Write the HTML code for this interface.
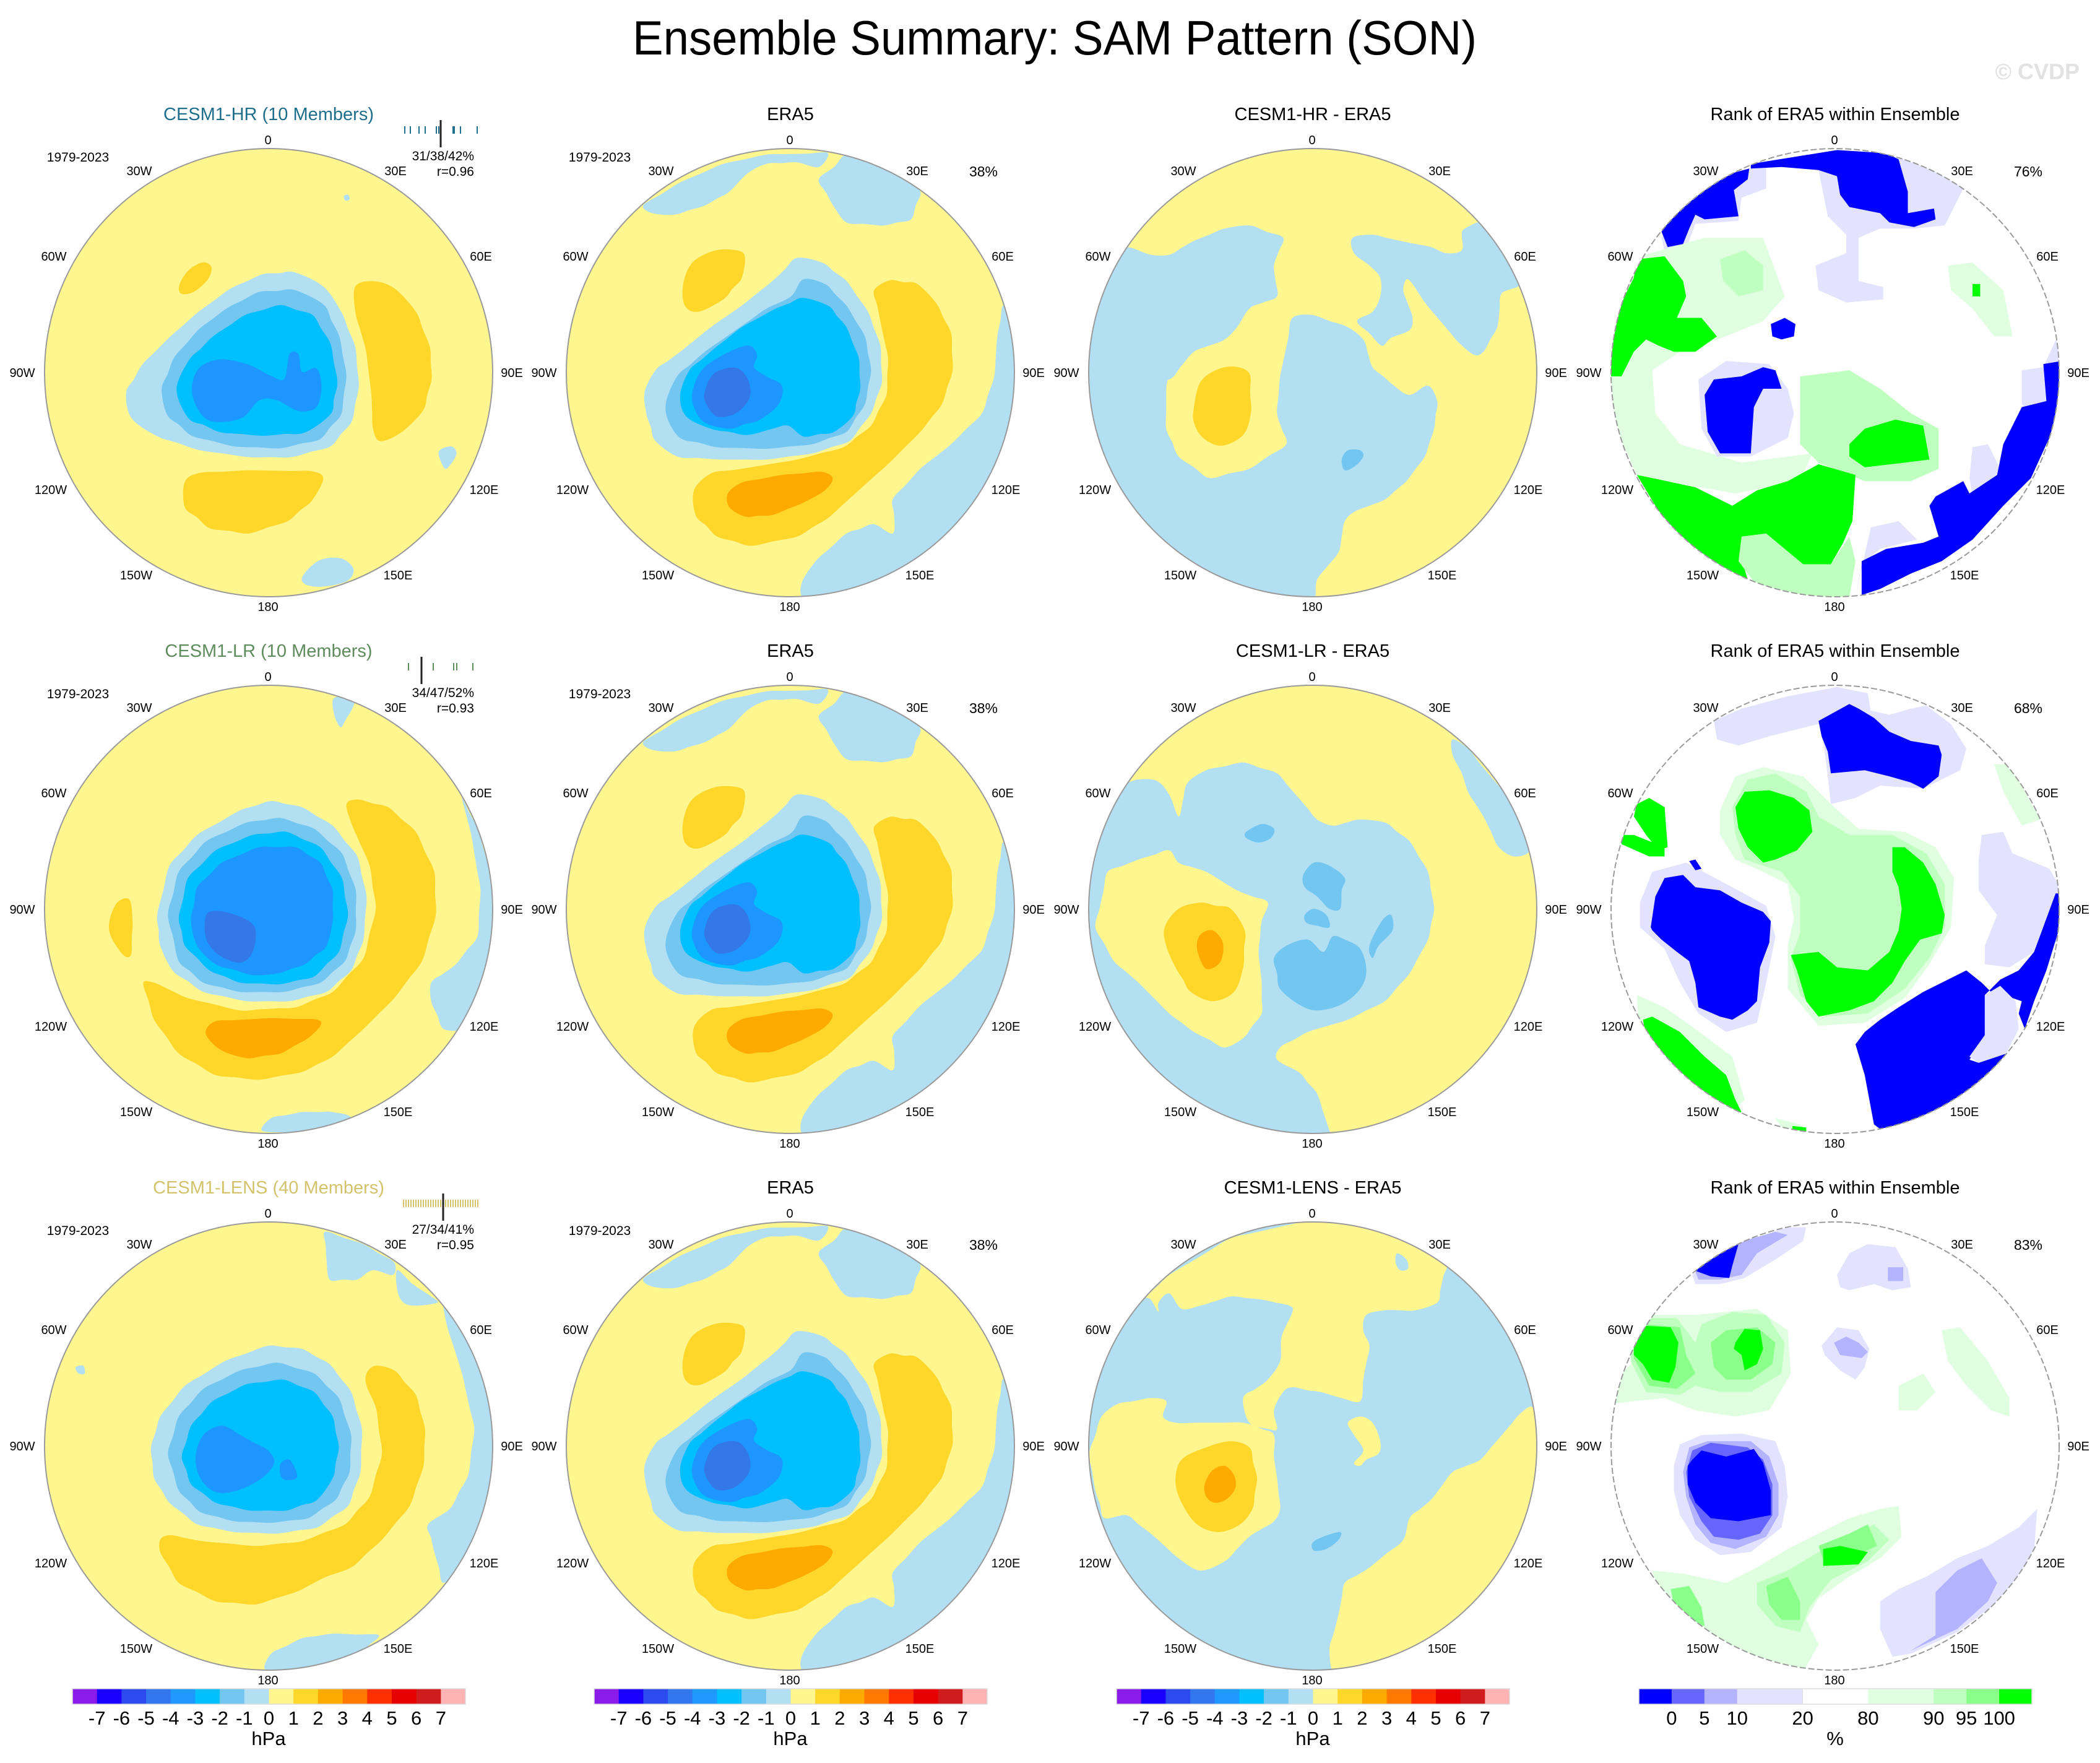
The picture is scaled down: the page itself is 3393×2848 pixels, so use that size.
<!DOCTYPE html>
<html><head><meta charset="utf-8"><title>Ensemble Summary: SAM Pattern (SON)</title>
<style>
html,body{margin:0;padding:0;background:#fff;}
svg{display:block;font-family:"Liberation Sans",sans-serif;}
</style></head>
<body>
<svg id="root" xmlns="http://www.w3.org/2000/svg" width="3393" height="2848" viewBox="0 0 3393 2848">
<rect width="3393" height="2848" fill="#fff"/>
<text x="1704" y="88" font-size="78" text-anchor="middle" textLength="1364" lengthAdjust="spacingAndGlyphs" fill="#000">Ensemble Summary: SAM Pattern (SON)</text>
<text x="3360" y="128" font-size="36" font-weight="bold" text-anchor="end" fill="#e2e2e2">© CVDP</text>
<defs id="defs"></defs>
</svg>
<script>
// ---------- colour-bar data ----------
const hpaColors = ["#8b1be8","#1a00ff","#2d4aee","#3377ee","#1f99ff","#00c0ff","#73c6f0","#b3dff2","#fff68f","#ffd62a","#ffaa00","#ff7800","#ff3000","#e60000","#d01c1c","#ffb3b3"];
const hpaLabels = ["-7","-6","-5","-4","-3","-2","-1","0","1","2","3","4","5","6","7"];
const rankColors = ["#0000ff","#6666ff","#b3b3ff","#e3e3ff","#ffffff","#e0ffe0","#bfffbf","#8aff8a","#00ff00"];
const rankUnits = [1,1,1,2,2,2,1,1,1];
const rankLabels = ["0","5","10","20","80","90","95","100"];
const colCenters = [434,1277,2121,2965];
const rowCenters = [602,1469,2336];
const lonLabels = ["0","30W","30E","60W","60E","90W","90E","120W","120E","150W","150E","180"];
const rowTitles = ["CESM1-HR (10 Members)","CESM1-LR (10 Members)","CESM1-LENS (40 Members)"];
const rowTitleColors = ["#1f6e8c","#5e8c5c","#d2c36c"];
const rowStats = ["31/38/42%","34/47/52%","27/34/41%"];
const rowR = ["r=0.96","r=0.93","r=0.95"];
const diffTitles = ["CESM1-HR - ERA5","CESM1-LR - ERA5","CESM1-LENS - ERA5"];
const rankPct = ["76%","68%","83%"];
const eraPct = "38%";

const NS="http://www.w3.org/2000/svg";
const svg=document.getElementById('root');
const defs=document.getElementById('defs');
function el(tag,attrs,parent){const e=document.createElementNS(NS,tag);for(const k in attrs)e.setAttribute(k,attrs[k]);(parent||svg).appendChild(e);return e;}
function txt(x,y,s,size,anchor,fill,parent){const t=el('text',{x:x,y:y,'font-size':size,'text-anchor':anchor||'middle',fill:fill||'#000'},parent);t.textContent=s;return t;}

const Y="#fff68f",G="#ffd62a",O="#ffaa00",LB="#b3dff2",MB="#73c6f0",C="#00bfff",B="#1e96ff",DB="#3478e8";
const R0="#0000ff",R1="#6666ff",R2="#b3b3ff",R3="#e3e3ff",W="#ffffff",G1="#e0ffe0",G2="#bfffbf",G3="#8aff8a",G4="#00ff00";

function densify(P){const out=[];const n=P.length;
 for(let i=0;i<n;i++){const a=P[i],b=P[(i+1)%n];out.push(a);
  const d=Math.hypot(b[0]-a[0],b[1]-a[1]);const k=Math.floor(d/90);
  for(let j=1;j<=k;j++){const t=j/(k+1);out.push([a[0]+(b[0]-a[0])*t,a[1]+(b[1]-a[1])*t]);}}
 return out;}
function smooth(p){let P=[];for(let i=0;i<p.length;i+=2)P.push([p[i],p[i+1]]);
 P=densify(P);const n=P.length;
 let d="M"+P[0][0].toFixed(1)+" "+P[0][1].toFixed(1);
 for(let i=0;i<n;i++){const p0=P[(i-1+n)%n],p1=P[i],p2=P[(i+1)%n],p3=P[(i+2)%n];
  d+=" C"+(p1[0]+(p2[0]-p0[0])/6).toFixed(1)+" "+(p1[1]+(p2[1]-p0[1])/6).toFixed(1)+" "+(p2[0]-(p3[0]-p1[0])/6).toFixed(1)+" "+(p2[1]-(p3[1]-p1[1])/6).toFixed(1)+" "+p2[0].toFixed(1)+" "+p2[1].toFixed(1);}
 return d+"Z";}
function poly(p){let d="M"+p[0]+" "+p[1];for(let i=2;i<p.length;i+=2)d+=" L"+p[i]+" "+p[i+1];return d+"Z";}

// ---------- map shape definitions (frame-local coordinates) ----------
const mapHR={bg:Y,shapes:[
 [LB,[355,880,400,800,480,720,560,650,650,585,740,545,830,540,910,580,960,650,1000,750,1010,860,990,960,930,1030,820,1060,700,1060,560,1040,440,1000,370,950]],
 [MB,[455,870,490,780,560,700,640,640,730,595,830,590,910,630,955,720,975,830,960,940,900,1010,790,1035,660,1030,540,1000,470,940]],
 [C,[497,870,530,790,600,720,690,660,790,632,880,660,930,740,950,850,930,940,860,990,740,1000,620,990,530,950]],
 [B,[540,870,560,810,620,785,700,800,760,830,800,840,815,770,840,770,850,820,890,810,905,860,890,920,840,930,780,900,730,900,680,950,600,960,560,930]],
 [G,[1000,580,1050,565,1110,585,1170,650,1210,750,1215,840,1190,930,1130,990,1070,1015,1050,980,1045,880,1030,760,1000,650]],
 [G,[520,1130,560,1105,700,1097,880,1100,910,1120,880,1180,810,1240,700,1275,590,1260,520,1200]],
 [G,[505,575,530,535,570,512,595,525,585,560,545,595,510,600]],
 [LB,[855,1390,900,1350,960,1345,995,1375,975,1410,900,1425,855,1415]],
 [LB,[1235,1045,1270,1030,1285,1050,1265,1085,1250,1090]],
 [LB,[968,325,980,322,984,334,972,338]]
]};
const mapERA={bg:Y,shapes:[
 [LB,[300,225,420,150,560,90,700,60,900,55,870,100,800,85,700,90,640,120,580,180,500,225,400,255,330,250]],
 [LB,[870,140,920,100,960,60,1100,110,1200,180,1170,270,1080,290,960,280,920,230]],
 [LB,[1470,550,1540,700,1540,900,1480,1100,1400,1250,1300,1360,1150,1440,950,1500,820,1500,815,1450,860,1380,960,1290,1050,1260,1110,1290,1115,1230,1110,1180,1200,1080,1300,1000,1400,900,1440,780,1450,650]],
 [G,[430,480,460,410,530,372,600,370,630,390,620,460,560,530,480,570,435,550]],
 [G,[1050,500,1100,468,1190,480,1250,540,1300,640,1305,760,1270,870,1200,960,1100,1060,1000,1150,900,1240,800,1300,650,1330,540,1300,470,1230,465,1150,520,1095,650,1075,800,1050,950,1010,1040,940,1090,840,1095,720,1070,600]],
 [O,[575,1160,620,1125,750,1100,880,1090,915,1110,890,1150,820,1190,720,1230,630,1235,580,1205]],
 [LB,[305,830,340,760,420,700,520,620,620,550,720,470,800,395,880,410,960,470,1030,570,1070,680,1075,800,1040,900,970,990,850,1030,700,1050,550,1050,410,1040,340,990,310,900]],
 [MB,[375,860,410,780,500,700,600,630,700,560,780,520,820,465,890,480,960,550,1020,650,1040,760,1020,870,960,960,850,1000,700,1015,540,1010,420,980,380,920]],
 [C,[420,840,450,760,530,690,620,620,730,560,820,525,900,550,960,620,1000,720,1005,820,980,910,920,960,820,975,770,940,720,950,640,970,520,950,440,910]],
 [B,[460,830,490,760,560,710,640,680,670,710,660,750,700,780,750,810,740,870,680,920,580,950,500,930,465,880]],
 [DB,[500,830,530,770,600,752,640,790,645,850,600,900,540,910,505,870]]
]};
const mapDiff1={bg:Y,shapes:[
 [LB,[165,360,240,385,300,385,380,340,480,300,560,290,670,330,640,420,650,520,560,560,520,620,480,660,380,700,300,790,0,790,0,360]],
 [LB,[0,700,290,760,290,950,330,1040,430,1110,560,1080,680,1000,650,900,660,780,700,590,760,580,880,620,930,660,960,750,1030,810,1080,840,1140,810,1170,860,1160,950,1130,1040,1070,1120,1000,1180,900,1220,870,1250,850,1350,780,1440,770,1540,0,1540]],
 [LB,[895,330,960,320,1050,340,1150,360,1200,380,1250,370,1250,320,1260,300,1320,280,1440,480,1380,510,1365,620,1320,700,1290,710,1240,670,1180,600,1130,540,1090,480,1070,465,1060,500,1090,590,1080,630,1020,655,990,680,950,640,910,600,960,570,985,520,985,460,950,420,900,380]],
 [G,[380,880,400,800,450,760,510,748,560,770,565,900,540,970,470,1005,410,980,380,930]],
 [MB,[860,1050,880,1020,920,1020,930,1040,905,1070,870,1085]]
]};
const mapLR={bg:Y,shapes:[
 [LB,[1420,400,1470,500,1530,700,1520,900,1470,1040,1420,1150,1360,1150,1320,1060,1320,1000,1400,940,1470,850,1480,700,1450,520]],
 [LB,[1005,75,1070,85,1040,150,1025,170,1005,130]],
 [LB,[770,1480,800,1440,900,1420,1000,1420,1060,1440,1000,1500]],
 [G,[275,800,300,740,340,730,350,800,345,910,320,910,280,850]],
 [G,[1045,420,1080,405,1180,430,1270,510,1330,640,1335,780,1290,930,1200,1050,1100,1150,1000,1240,900,1290,760,1315,620,1300,500,1230,420,1120,385,1000,420,1000,530,1050,700,1090,880,1080,1000,1030,1100,920,1140,760,1120,620,1060,480]],
 [O,[590,1150,620,1125,800,1115,950,1120,960,1140,920,1180,830,1230,720,1245,640,1220,595,1180]],
 [LB,[430,780,470,620,560,520,700,440,800,410,900,430,1000,490,1080,590,1110,720,1100,860,1060,960,980,1030,860,1060,720,1060,580,1030,480,960,440,880]],
 [MB,[465,780,500,640,590,540,720,480,830,465,940,500,1030,580,1075,700,1075,830,1040,930,960,1000,840,1030,700,1030,580,1000,500,930]],
 [C,[500,790,530,660,620,570,740,520,850,510,960,560,1030,660,1050,780,1020,900,940,980,830,1005,700,1000,600,960,520,880]],
 [B,[540,800,560,690,640,610,760,560,880,560,960,610,1000,700,1000,800,980,880,910,940,820,970,740,975,620,940,560,880]],
 [DB,[585,800,600,770,650,770,720,795,750,830,740,900,700,935,630,910,590,860]]
]};
const mapLENS={bg:Y,shapes:[
 [LB,[975,60,1100,100,1200,160,1195,200,1130,185,1080,215,990,215,980,150]],
 [LB,[1210,185,1260,230,1320,270,1340,290,1270,300,1230,290,1210,250]],
 [LB,[1360,290,1420,380,1530,560,1530,760,1490,980,1420,1150,1360,1200,1330,1100,1310,1010,1380,960,1440,850,1460,700,1420,520,1370,360]],
 [LB,[780,1480,800,1430,900,1380,1000,1365,1150,1370,1080,1440,900,1490]],
 [LB,[165,500,190,495,195,520,175,520]],
 [G,[1110,520,1140,495,1200,510,1270,590,1300,700,1295,820,1250,950,1160,1060,1060,1150,980,1180,880,1230,750,1270,620,1260,500,1200,440,1100,440,1060,470,1045,580,1065,750,1080,900,1065,1040,1010,1120,920,1160,780,1140,630,1110,560]],
 [LB,[410,760,440,660,520,560,650,480,790,430,900,440,990,490,1060,580,1095,700,1090,840,1050,950,950,1020,820,1040,680,1035,560,1010,470,940,420,860]],
 [MB,[465,780,500,660,580,570,700,510,820,485,940,520,1020,600,1060,720,1055,840,1010,930,920,990,800,1005,680,1000,570,970,500,900]],
 [C,[510,790,540,690,610,610,720,555,840,540,940,580,1000,660,1020,760,1000,860,950,930,850,965,730,965,620,940,540,880]],
 [B,[555,790,580,720,640,690,700,720,790,770,810,810,770,860,690,900,620,905,570,860]],
 [B,[830,815,860,800,885,850,870,865,835,860]]
]};
const mapDiff2={bg:Y,shapes:[
 [LB,[160,350,200,340,260,345,300,390,330,460,360,350,420,310,540,285,650,320,720,400,780,470,830,490,920,470,1000,480,1080,540,1140,640,1160,760,1140,860,1080,970,1000,1060,880,1120,750,1160,660,1210,650,1250,720,1290,780,1360,840,1540,700,1540,0,1540,0,350]],
 [Y,[60,820,100,640,200,600,300,570,330,610,420,640,520,700,620,740,600,800,590,900,600,1000,600,1100,540,1180,480,1210,380,1160,300,1100,200,1000,120,930]],
 [G,[285,820,330,760,400,740,500,760,545,830,540,950,510,1030,440,1060,370,1030,320,950,290,880]],
 [O,[390,870,405,840,440,830,470,860,475,900,460,940,420,955,395,910]],
 [LB,[1220,210,1270,240,1310,290,1420,420,1470,570,1420,590,1370,560,1320,460,1270,380,1250,320,1220,260]],
 [MB,[640,920,680,880,750,860,800,900,830,850,870,860,920,890,940,960,920,1020,860,1070,780,1090,720,1070,660,1020]],
 [MB,[735,650,770,610,820,620,870,660,860,700,855,760,820,760,780,720,740,690]],
 [MB,[550,510,600,485,640,500,630,530,590,545,550,530]],
 [MB,[740,780,770,760,810,780,820,820,780,815,745,805]],
 [MB,[950,880,990,800,1020,780,1025,830,980,880,960,920]]
]};
const mapDiff3={bg:LB,shapes:[
 [Y,[225,270,300,200,500,80,766,20,930,35,1000,50,1200,160,1180,250,1170,290,1100,315,1000,315,940,330,930,380,950,430,930,540,920,610,860,600,790,580,750,575,700,565,670,580,640,640,650,700,620,700,560,680,540,600,620,540,660,480,665,400,700,320,690,300,600,280,500,270,400,300,340,310,300,260,265,290,265,320,240,280]],
 [LB,[1040,130,1070,150,1075,180,1050,185,1035,160]],
 [Y,[40,780,80,660,130,620,240,600,290,610,280,660,320,680,540,680,600,700,640,720,640,790,650,860,660,960,640,1000,560,1050,480,1130,400,1160,330,1120,240,1040,160,980,90,990,60,900]],
 [G,[320,870,340,800,420,760,500,740,560,760,585,860,570,960,530,1010,460,1035,390,1010,340,940]],
 [O,[415,880,440,835,480,820,510,850,515,890,490,925,450,940,420,920]],
 [Y,[1480,630,1520,780,1480,1000,1400,1200,1250,1380,1100,1450,840,1500,820,1420,850,1300,870,1200,950,1150,1060,1060,1080,990,1150,930,1220,840,1310,800,1380,720,1440,650]],
 [Y,[880,680,920,660,960,680,985,740,980,780,940,800,920,820,900,810,930,770,900,720]],
 [MB,[765,1070,800,1050,855,1035,850,1060,810,1090,770,1095]]
]};
const rank1={bg:W,shapes:[
 [R3,[190,330,260,220,420,115,530,95,530,170,450,200,440,275,300,285,270,365,200,375]],
 [R0,[190,310,250,230,330,170,420,120,475,105,470,140,425,175,440,260,330,270,300,255,280,300,260,350,210,360]],
 [R3,[700,110,960,70,1100,120,1170,170,1110,290,1010,300,900,300,830,330,830,470,910,490,910,530,790,540,700,500,690,420,790,380,790,320,730,260]],
 [R0,[480,90,760,45,920,55,960,75,990,180,990,250,1075,235,1080,270,1010,295,930,280,900,250,800,230,770,190,760,130,700,110,580,100,480,105]],
 [G1,[60,450,120,390,330,330,520,330,590,520,520,600,400,650,250,700,160,760,170,900,250,1000,450,1060,680,1030,640,1120,430,1160,260,1130,110,1100,20,900,20,650]],
 [G2,[380,400,460,370,520,420,520,500,440,520,390,470]],
 [G4,[110,400,200,390,260,470,270,520,240,590,320,590,370,650,300,700,230,700,180,680,140,660,100,700,60,780,20,780,20,600,70,520,100,460]],
 [G2,[640,780,800,760,900,820,1000,900,1090,950,1090,1080,1000,1120,850,1120,700,1060,640,1000]],
 [G4,[110,1100,160,1110,300,1140,420,1200,500,1150,600,1120,700,1065,820,1100,810,1250,780,1320,740,1390,650,1390,530,1300,450,1370,470,1440,300,1380,200,1250]],
 [G2,[450,1300,530,1290,650,1390,740,1390,800,1300,820,1380,800,1500,650,1500,500,1460,440,1380]],
 [G4,[800,1000,850,950,950,920,1040,940,1060,1050,980,1060,850,1075,800,1040]],
 [R3,[310,790,400,730,540,740,600,820,620,900,600,980,480,1040,370,1040,320,950]],
 [R0,[330,840,360,790,450,780,520,750,560,760,580,820,520,820,490,880,480,1030,380,1030,340,960]],
 [R0,[545,610,590,590,625,610,620,650,580,660,550,650]],
 [G1,[1120,420,1200,410,1300,500,1330,650,1270,650,1200,560,1130,500]],
 [G4,[1200,480,1225,480,1225,520,1200,520]],
 [R3,[1360,760,1430,750,1480,640,1490,1000,1360,870]],
 [R3,[1200,1010,1250,1000,1300,1100,1290,1150,1200,1170,1190,1110]],
 [R3,[870,1270,960,1250,1020,1310,900,1340,840,1390,820,1490]],
 [R0,[1430,740,1490,730,1490,900,1440,1000,1390,1110,1300,1200,1200,1310,1100,1380,1000,1420,900,1470,840,1490,840,1380,920,1340,1040,1320,1090,1300,1060,1200,1080,1170,1170,1120,1190,1160,1280,1100,1300,1000,1360,880,1440,860]]
]};
const rank2={bg:W,shapes:[
 [R3,[360,150,450,110,600,70,760,40,860,60,870,120,760,120,700,160,540,200,440,230,370,210]],
 [R3,[700,140,800,100,930,130,1000,110,1050,100,1130,160,1180,240,1160,310,1100,340,1040,370,900,360,820,400,740,420,730,330,720,250]],
 [R0,[700,150,800,95,830,110,880,140,930,185,1000,215,1090,230,1100,260,1090,330,1040,370,1000,350,930,330,850,310,740,320,730,250,710,200]],
 [G1,[1270,290,1320,290,1420,470,1360,490,1300,380]],
 [G1,[380,440,430,330,520,300,650,330,740,420,830,500,980,510,1080,560,1140,660,1130,820,1060,940,980,1050,850,1130,700,1140,600,1020,600,880,620,790,600,680,520,640,430,600,380,520]],
 [G2,[420,430,470,340,560,320,660,380,700,460,800,520,940,520,1050,580,1110,680,1110,820,1060,920,980,1020,860,1100,720,1110,640,1040,610,920,640,840,640,720,580,640,460,600,430,520]],
 [G4,[430,430,460,380,540,375,620,400,670,440,680,510,630,570,560,600,520,610,470,560,440,500]],
 [G4,[940,560,980,560,1040,610,1080,680,1110,780,1100,840,1030,860,980,930,940,1000,880,1060,800,1090,700,1110,660,1060,630,960,610,910,700,900,760,950,860,960,930,900,960,830,970,760,960,690,940,640]],
 [G4,[110,420,150,400,200,430,210,560,180,570,140,520,100,460]],
 [G4,[65,520,100,520,200,560,200,590,150,590,60,550]],
 [G1,[110,1040,200,1080,300,1150,420,1240,460,1380,400,1440,300,1390,200,1300,120,1200]],
 [G4,[130,1120,160,1110,250,1160,330,1240,400,1300,430,1380,450,1420,400,1430,330,1400,260,1340,200,1250,140,1180]],
 [R3,[120,740,160,640,270,610,420,690,530,750,560,850,530,1000,500,1130,400,1160,310,1100,250,1000,200,890,120,820]],
 [R0,[155,820,170,720,200,660,260,650,300,690,380,700,450,740,520,770,545,800,540,870,510,950,500,1060,470,1090,420,1120,380,1110,310,1080,300,1000,280,930,240,900,190,860,160,830]],
 [R0,[280,605,300,600,320,630,300,635]],
 [R3,[1230,520,1300,510,1330,580,1450,630,1490,700,1490,860,1400,900,1320,950,1240,940,1240,880,1280,780,1220,700,1220,600]],
 [R0,[1470,710,1490,710,1480,830,1440,960,1400,1060,1370,1150,1350,1100,1360,1060,1300,1040,1260,1030,1230,1000,1180,960,1100,1000,1040,1030,960,1080,900,1120,850,1160,820,1200,850,1300,880,1460,920,1490,1050,1430,1150,1380,1250,1300,1310,1230,1220,1260,1190,1250,1240,1180,1240,1040,1290,990,1350,960,1400,900]],
 [R3,[1240,1040,1290,1010,1340,1060,1350,1150,1310,1230,1220,1260,1190,1240,1240,1170]],
 [G1,[560,1440,640,1460,680,1500,600,1500]],
 [G4,[615,1465,660,1470,660,1490,615,1485]]
]};
const rank3={bg:W,shapes:[
 [G1,[20,560,100,480,90,380,140,330,300,330,500,310,600,380,610,520,540,640,430,660,300,640,200,600,100,610,20,620]],
 [G2,[90,380,140,340,240,340,300,420,320,360,420,320,530,330,590,420,580,520,480,580,380,580,300,560,250,590,140,580,90,480]],
 [G3,[100,400,130,360,250,370,270,460,300,520,240,570,150,560,100,470]],
 [G3,[350,420,400,380,500,370,560,420,550,490,480,540,400,540,360,500]],
 [G4,[100,400,130,365,220,370,245,420,235,500,215,550,160,540,130,490,100,460]],
 [G4,[430,420,460,375,510,380,520,440,500,490,460,510,450,460,425,440]],
 [R3,[230,820,250,750,320,720,450,715,560,740,590,820,600,920,580,1020,480,1100,380,1110,300,1060,250,980,230,900]],
 [R2,[260,840,280,760,340,740,480,740,540,790,570,880,570,980,530,1050,430,1090,350,1070,300,1010,270,920]],
 [R1,[270,840,290,770,350,745,470,760,520,800,550,880,550,980,510,1040,440,1060,360,1050,320,1000,280,920]],
 [R0,[275,820,290,800,320,770,400,790,490,765,520,810,545,900,545,980,440,1000,350,990,300,940,275,880]],
 [R3,[290,200,400,110,600,45,660,45,650,90,560,150,460,210,380,230,300,230]],
 [R2,[300,190,420,100,560,60,600,70,500,130,450,200,380,215,310,215]],
 [R0,[295,185,360,140,440,100,420,170,410,210,350,205]],
 [R3,[760,200,800,130,860,100,950,110,990,180,1000,240,940,250,880,230,800,250,770,240]],
 [R2,[925,175,975,175,975,220,925,220]],
 [R3,[710,430,760,370,830,380,865,440,850,500,820,540,770,510,720,460]],
 [R2,[750,420,790,400,830,420,860,450,840,470,770,460]],
 [G1,[1100,380,1160,370,1250,480,1320,600,1320,660,1260,640,1180,560,1120,480]],
 [G1,[960,560,1040,520,1080,580,1020,640,960,640]],
 [R3,[900,1260,960,1220,1050,1180,1150,1120,1250,1080,1350,1020,1410,960,1400,1100,1300,1250,1150,1360,1000,1430,940,1440,900,1350]],
 [R2,[1000,1420,1080,1370,1080,1230,1150,1160,1230,1120,1280,1200,1250,1260,1150,1350]],
 [G1,[160,1160,260,1170,400,1200,500,1150,600,1090,700,1040,800,990,900,960,960,950,970,1050,900,1120,800,1180,700,1250,660,1320,700,1400,650,1490,500,1480,350,1400,250,1300,180,1230]],
 [G2,[500,1200,600,1160,700,1100,800,1050,880,1010,930,1060,860,1130,740,1190,670,1280,640,1360,560,1340,500,1270]],
 [G3,[530,1210,600,1180,640,1260,640,1320,580,1320,540,1270]],
 [G3,[220,1220,280,1210,320,1280,330,1340,280,1330,230,1270]],
 [G3,[700,1080,800,1040,860,1010,890,1080,800,1120,720,1140]],
 [G4,[715,1090,770,1080,860,1100,830,1140,715,1145]]
]};

// ---------- panel layout ----------
const panels=[
 [0,0,mapHR,0,130,0.574,true,'model'],
 [0,1,mapERA,890,220,0.4975,true,'era'],
 [0,2,mapDiff1,1740,220,0.4975,true,'diff'],
 [0,3,rank1,2590,220,0.4975,false,'rank'],
 [1,0,mapLR,40,1090,0.4975,true,'model'],
 [1,1,mapERA,890,1087,0.4975,true,'era'],
 [1,2,mapDiff2,1740,1090,0.4975,true,'diff'],
 [1,3,rank2,2590,1090,0.4975,false,'rank'],
 [2,0,mapLENS,40,1960,0.4975,true,'model'],
 [2,1,mapERA,890,1954,0.4975,true,'era'],
 [2,2,mapDiff3,1740,1960,0.4975,true,'diff'],
 [2,3,rank3,2590,1960,0.4975,false,'rank']
];
const labelOffsets=[[-1,-376],[-209,-326],[205,-326],[-347,-188],[343,-188],[-398,0],[393,0],[-352,189],[348,189],[-214,327],[209,327],[-1,378]];
const R=362;

panels.forEach((p,i)=>{
 const [row,col,map,ox,oy,s,sm,kind]=p;
 const cx=colCenters[col],cy=rowCenters[row];
 const cp=el('clipPath',{id:'clip'+i},defs);
 el('circle',{cx:cx,cy:cy,r:R},cp);
 const g=el('g',{'clip-path':'url(#clip'+i+')'});
 
 
 el('circle',{cx:cx,cy:cy,r:R,fill:map.bg},g);
 const inner=el('g',{transform:'translate('+ox+' '+oy+') scale('+s+')'},g);
 map.shapes.forEach(sh=>{
  const path=el('path',{d:sm?smooth(sh[1]):poly(sh[1]),fill:sh[0]},inner);
  
  
 });
 const ring=el('circle',{cx:cx,cy:cy,r:R,fill:'none',stroke:'#9a9a9a','stroke-width':2,'stroke-dasharray':kind==='rank'?'10 4':'none'});
 
 
 lonLabels.forEach((lab,j)=>{
  const t=txt(cx+labelOffsets[j][0],cy+labelOffsets[j][1]+7,lab,20,'middle','#000');
  
  
 });
 let title,tcol='#000';
 if(kind==='model'){title=rowTitles[row];tcol=rowTitleColors[row];}
 else if(kind==='era'){title='ERA5';}
 else if(kind==='diff'){title=diffTitles[row];}
 else {title='Rank of ERA5 within Ensemble';}
 const tt=txt(cx,cy-408,title,29,'middle',tcol);
 
 
 if(kind==='model'||kind==='era'){
  const yr=txt(cx-308,cy-341,'1979-2023',21,'middle','#000');
  
  
 }
 if(kind==='era'||kind==='rank'){
  const pc=txt(cx+312,cy-317,kind==='era'?eraPct:rankPct[row],23,'middle','#000');
  
  
 }
 if(kind==='model'){
  const a=txt(cx+332,cy-343,rowStats[row],21,'end','#000');
  
  
  const b=txt(cx+332,cy-318,rowR[row],21,'end','#000');
  
  
 }
});

// member tick strips (relative x offsets from column-1 centre)
const tickHR=[220,229,243,253,271,275,278,298,300,310,337];
const tickLR=[226,247,266,299,304,330];
const tickLENS=[218,222,226,230,234,238,242,246,250,254,258,262,266,270,274,278,282,286,290,294,298,302,306,310,314,318,322,326,330,334,338];
const tickSets=[tickHR,tickLR,tickLENS];
const tickMain=[[278,2],[247,1],[282,1]];
tickSets.forEach((set,row)=>{
 const cy=rowCenters[row];
 const g=el('g',{});
 
 
 set.forEach((dx,k)=>{
  const tall=(dx===tickMain[row][0]);
  el('line',{x1:434+dx,x2:434+dx,y1:cy-(tall?408:398),y2:cy-(tall?364:386),stroke:tall?'#222':rowTitleColors[row],'stroke-width':tall?3:2},g);
 });
});

// ---------- colour bars ----------
const barY=2728,barH=25,barW=635;
for(let c=0;c<3;c++){
 const x0=colCenters[c]-317,w=barW/hpaColors.length;
 const g=el('g',{});
 
 
 hpaColors.forEach((col,k)=>{el('rect',{x:x0+k*w,y:barY,width:w+0.5,height:barH,fill:col},g);});
 el('rect',{x:x0,y:barY,width:barW,height:barH,fill:'none',stroke:'#ddd','stroke-width':1.5},g);
 hpaLabels.forEach((lab,k)=>{
  const t=txt(x0+(k+1)*w,2786,lab,31,'middle','#000',g);
  
  
 });
 const u=txt(colCenters[c],2819,'hPa',31,'middle','#000',g);
 
 
}
{
 const total=rankUnits.reduce((a,b)=>a+b,0),uw=barW/total,x0=colCenters[3]-317;
 const g=el('g',{});
 
 
 let acc=0;const bounds=[];
 rankColors.forEach((col,k)=>{el('rect',{x:x0+acc*uw,y:barY,width:rankUnits[k]*uw+0.5,height:barH,fill:col,stroke:k===4?'#ddd':'none'},g);acc+=rankUnits[k];bounds.push(acc);});
 el('rect',{x:x0,y:barY,width:barW,height:barH,fill:'none',stroke:'#ddd','stroke-width':1.5},g);
 rankLabels.forEach((lab,k)=>{
  const t=txt(x0+bounds[k]*uw,2786,lab,31,'middle','#000',g);
  
  
 });
 const u=txt(colCenters[3],2819,'%',31,'middle','#000',g);
 
 
}
</script>
</body></html>
